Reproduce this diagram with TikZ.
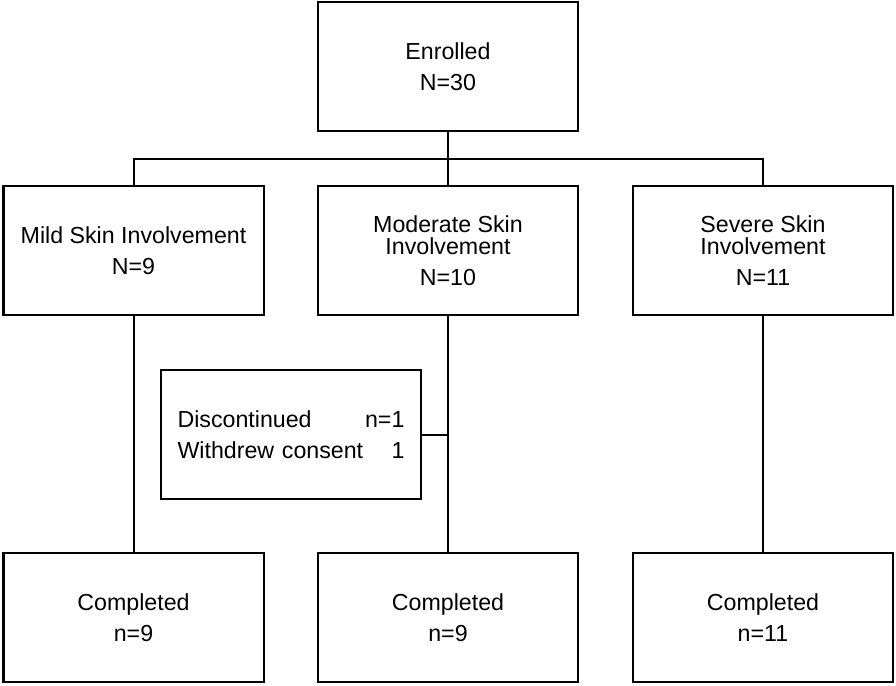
\documentclass[tikz,border=0pt]{standalone}
\usepackage{fontspec}
\setmainfont{Liberation Sans}
\usetikzlibrary{positioning,calc}
\tikzset{
  flowbox/.style={draw,rectangle,line width=1pt,minimum width=130pt,minimum height=64.5pt,inner sep=0pt,align=center,font=\fontsize{11.6}{15.3}\selectfont},
  sidebox/.style={flowbox,align=left,text width=113.5pt},
  link/.style={line width=1pt}
}

\begin{document}
\begin{tikzpicture}[x=0.5pt, y=-0.5pt]
  \useasboundingbox (0,0) rectangle (896,686);
  % Enrolment
  \node[flowbox] (enrolled) at (448, 66.5) {Enrolled\\N=30};

  % Skin involvement groups
  \node[flowbox] (mild) at (133.5, 250.5) {Mild Skin Involvement\\N=9};
  \node[flowbox] (moderate) at (448, 250.5) {Moderate Skin\\[-4pt]Involvement\\N=10};
  \node[flowbox] (severe) at (763, 250.5) {Severe Skin\\[-4pt]Involvement\\N=11};

  % Discontinued
  \node[sidebox] (disc) at (291, 434.5) {Discontinued\hfill n=1\\Withdrew consent\hfill 1};

  % Completed
  \node[flowbox] (donemild) at (133.5, 617.5) {Completed\\n=9};
  \node[flowbox] (donemod) at (448, 617.5) {Completed\\n=9};
  \node[flowbox] (donesev) at (763, 617.5) {Completed\\n=11};

  % Connections
  \coordinate (split) at (448, 159);
  \draw[link] (enrolled) -- (moderate);
  \draw[link] (mild.north) |- (split) -| (severe.north);
  \draw[link] (mild) -- (donemild);
  \draw[link] (moderate) -- (donemod);
  \draw[link] (severe) -- (donesev);
  \draw[link] (disc.east) -- (disc.east -| moderate.south);
\end{tikzpicture}
\end{document}
